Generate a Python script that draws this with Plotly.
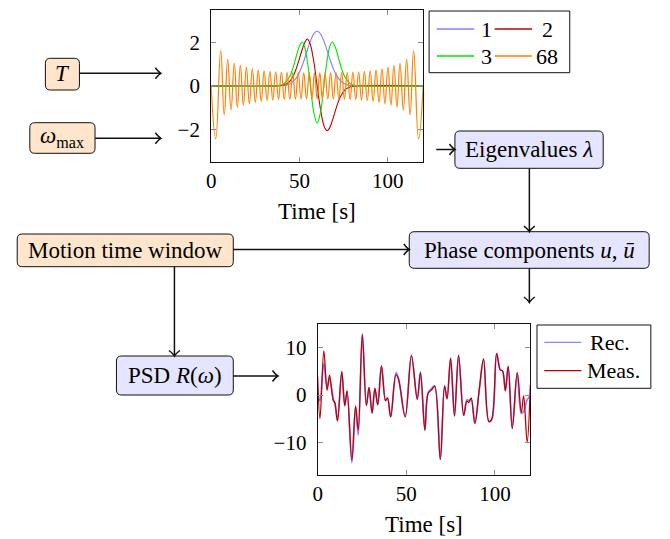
import math
import plotly.graph_objects as go

W, H = 670, 539

# ---------------- top panel: eigenfunctions ----------------
t_1 = [0, 36, 40, 43, 46, 49, 52, 54, 56, 58, 60, 62, 64, 66, 68, 71, 74, 77, 80, 84, 120]
y_1 = [0, 0.0, 0.01, 0.045, 0.17, 0.47, 1.04, 1.54, 2.03, 2.39, 2.53, 2.39, 2.03, 1.54, 1.04, 0.47, 0.17, 0.045, 0.01, 0.0, 0]

t_2 = [0, 37, 41, 44, 47, 49, 51, 53, 54.4, 56, 58, 60, 62, 64, 65.6, 67, 69, 71, 73, 76, 79, 83, 120]
y_2 = [0, 0, 0.04, 0.17, 0.55, 1.00, 1.54, 2.00, 2.16, 1.94, 1.17, 0, -1.13, -1.88, -2.07, -1.95, -1.50, -0.97, -0.53, -0.16, -0.04, 0, 0]

t_3 = [0, 38, 41, 44, 46, 48, 50, 51.5, 53, 55, 56.2, 58, 60, 62, 63.8, 65, 67, 68.5, 70, 72, 74, 76, 79, 82, 120]
y_3 = [0, 0.01, 0.085, 0.36, 0.75, 1.31, 1.84, 2.02, 1.77, 0.81, 0, -1.18, -1.74, -1.18, 0, 0.81, 1.77, 2.02, 1.84, 1.31, 0.75, 0.36, 0.085, 0.01, 0]

# extrema of the 68th eigenfunction
t_68 = [0, 2.6, 5.4, 7.4, 9.35, 11.25, 13.1, 14.82, 16.53, 18.24, 19.94, 21.63, 23.31,
        24.99, 26.66, 28.32, 29.98, 31.63, 33.27, 34.90, 36.53, 38.15, 39.76, 41.37,
        42.97, 44.56, 46.14, 47.72, 49.29, 50.85, 52.41, 53.96, 55.55, 57.05, 58.52,
        60.0, 61.48, 62.95, 64.45, 66.04, 67.59, 69.15, 70.71, 72.28, 73.86, 75.44,
        77.03, 78.63, 80.24, 81.85, 83.47, 85.10, 86.73, 88.37, 90.02, 91.68, 93.34,
        95.01, 96.69, 98.37, 100.06, 101.76, 103.47, 105.18, 106.9, 108.75, 110.65,
        112.6, 114.6, 117.4, 120]
y_68 = [0, -2.45, 1.63, -1.34, 1.22, -1.10, 1.04, -0.98, 0.94, -0.89, 0.85, -0.82, 0.79,
        -0.76, 0.73, -0.71, 0.69, -0.68, 0.67, -0.66, 0.65, -0.64, 0.63, -0.63, 0.62,
        -0.62, 0.61, -0.61, 0.61, -0.60, 0.60, -0.60, 0.60, -0.60, 0.60, -0.60,
        0.60, -0.60, 0.60, -0.60, 0.60, -0.60, 0.61, -0.61, 0.61, -0.62, 0.62, -0.63,
        0.63, -0.64, 0.65, -0.66, 0.67, -0.68, 0.69, -0.71, 0.73, -0.76, 0.79, -0.82,
        0.85, -0.89, 0.94, -0.98, 1.04, -1.10, 1.22, -1.34, 1.63, -2.45, 0]

top_names = ["1", "2", "3", "68"]
top_colors = ["#8080FF", "#BF0000", "#00E600", "#FF8000"]

# ---------------- bottom panel: reconstructed vs measured motion ----------------
meas_t = [0, 1.3, 3.5, 5.3, 6.7, 8.8, 9.7, 11.2, 13.6, 15.3, 16.6, 19.3, 21.4, 22.9, 25.2,
          27.5, 29.0, 30.7, 32.3, 33.9, 36.0, 38.3, 39.4, 41.2, 44.2, 45.6, 49.4, 52.9,
          56.2, 58.0, 60.5, 62.3, 64.3, 66.0, 69.2, 71.6, 73.0, 75.0, 77.2, 79.5, 82.4,
          84.2, 85.3, 86.6, 88.7, 91.2, 93.6, 96.6, 98.2, 101.0, 103.0, 104.3, 105.9,
          107.5, 109.8, 112.6, 114.9, 116.2, 118.2, 120]
meas_v = [3.9, -5.0, 9.3, 1.0, 4.2, -1.1, -1.6, -5.5, 5.0, -2.3, 0.9, -13.7, -2.3, -7.4, 12.8,
          -2.2, 1.6, -3.8, 1.4, -2.1, 6.2, -1.2, -0.6, -4.6, 4.3, 3.4, -4.6, 8.4,
          -0.9, 4.7, -7.4, 0.3, 1.1, 1.8, -13.6, 1.9, -0.8, 7.8, -4.4, 8.4, -4.3,
          -1.3, -1.6, -0.6, -6.0, 1.2, 7.6, -5.6, -5.1, 8.8, 5.3, 5.1, 0.9,
          6.1, -7.1, 4.7, -3.7, -0.2, -10.0, 2.1]

rec_t = meas_t
rec_v = [0.6, -1.2, 6.6, 1.6, 3.4, -0.8, -1.8, -5.3, 4.8, -2.0, 0.4, -14.3, -2.6, -8.5, 12.9,
         -2.2, 1.5, -3.8, 1.4, -2.0, 6.0, -1.2, -0.6, -4.6, 4.7, 3.5, -4.6, 8.2,
         -0.9, 4.9, -7.4, 0.5, 1.4, 2.0, -13.6, 1.9, -0.8, 7.7, -4.4, 8.3, -4.3,
         -1.0, -1.2, -0.9, -6.0, 1.2, 7.5, -5.6, -5.3, 8.7, 5.4, 5.1, 0.9,
         6.0, -7.0, 4.6, -3.9, -3.5, -1.0, -0.2]

bottom_names = ["Rec.", "Meas."]
bottom_colors = ["#8888FF", "#BF0000"]

FONT = "Liberation Serif, Times New Roman, serif"
INK = "#111111"


def fx(x):
    return x / W


def fy(y):
    return 1 - y / H


fig = go.Figure()

top_series = [(t_1, y_1), (t_2, y_2), (t_3, y_3), (t_68, y_68)]
for (t, y), name, col in zip(top_series, top_names, top_colors):
    fig.add_trace(go.Scatter(
        x=t, y=y, mode="lines", name=name, showlegend=False,
        line=dict(color=col, width=1.2 if name == "68" else 1.1, shape="spline",
                  smoothing=1.3 if name == "68" else 1.0),
        xaxis="x", yaxis="y"))

for (t, v), name, col, w in zip([(rec_t, rec_v), (meas_t, meas_v)], bottom_names,
                                bottom_colors, [1.7, 1.3]):
    fig.add_trace(go.Scatter(
        x=t, y=v, mode="lines", name=name, showlegend=False,
        line=dict(color=col, width=w, shape="spline"),
        xaxis="x2", yaxis="y2"))

axis_common = dict(
    ticks="inside", ticklen=5, tickwidth=1, tickcolor="#8c8c8c",
    showline=True, linecolor=INK, linewidth=1, mirror="allticks",
    showgrid=False, zeroline=False, tickfont=dict(size=21, family=FONT, color="black"),
    fixedrange=True,
)

fig.update_layout(
    width=W, height=H,
    margin=dict(l=0, r=0, t=0, b=0),
    paper_bgcolor="white", plot_bgcolor="white",
    font=dict(family=FONT, color="black"),
    xaxis=dict(domain=[fx(207.7), fx(421.3)], range=[0, 120], tickvals=[0, 50, 100],
               anchor="y", ticklabelstandoff=0, **axis_common),
    yaxis=dict(domain=[fy(161.7), fy(10)], range=[-3.5, 3.5], tickvals=[-2, 0, 2],
               anchor="x", ticklabelstandoff=6, **axis_common),
    xaxis2=dict(domain=[fx(315), fx(529.3)], range=[0, 120], tickvals=[0, 50, 100],
                anchor="y2", ticklabelstandoff=0, **axis_common),
    yaxis2=dict(domain=[fy(475), fy(324)], range=[-16.88, 14.98], tickvals=[-10, 0, 10],
                anchor="x2", ticklabelstandoff=6, **axis_common),
)

shapes = []
annotations = []


def rounded_box(x0, y0, x1, y1, fill, r=5):
    p = (f"M {fx(x0 + r)},{fy(y0)} L {fx(x1 - r)},{fy(y0)} "
         f"Q {fx(x1)},{fy(y0)} {fx(x1)},{fy(y0 + r)} L {fx(x1)},{fy(y1 - r)} "
         f"Q {fx(x1)},{fy(y1)} {fx(x1 - r)},{fy(y1)} L {fx(x0 + r)},{fy(y1)} "
         f"Q {fx(x0)},{fy(y1)} {fx(x0)},{fy(y1 - r)} L {fx(x0)},{fy(y0 + r)} "
         f"Q {fx(x0)},{fy(y0)} {fx(x0 + r)},{fy(y0)} Z")
    shapes.append(dict(type="path", path=p, xref="paper", yref="paper",
                       fillcolor=fill, line=dict(color=INK, width=1)))


def label(x, y, text, size=23, anchor="center"):
    annotations.append(dict(x=fx(x), y=fy(y), xref="paper", yref="paper", text=text,
                            showarrow=False, xanchor=anchor, yanchor="middle",
                            font=dict(size=size, family=FONT, color="black")))


def arrow(x0, y0, x1, y1, head=5.5, back=5.5):
    shapes.append(dict(type="line", x0=fx(x0), y0=fy(y0), x1=fx(x1), y1=fy(y1),
                       xref="paper", yref="paper", line=dict(color=INK, width=1.5)))
    L = math.hypot(x1 - x0, y1 - y0)
    ux, uy = (x1 - x0) / L, (y1 - y0) / L
    nx, ny = -uy, ux
    bx, by = x1 - back * ux, y1 - back * uy
    a = (bx + head * nx, by + head * ny)
    b = (bx - head * nx, by - head * ny)
    ca = (x1 - 2.0 * ux + 1.0 * nx, y1 - 2.0 * uy + 1.0 * ny)
    cb = (x1 - 2.0 * ux - 1.0 * nx, y1 - 2.0 * uy - 1.0 * ny)
    p = (f"M {fx(a[0])},{fy(a[1])} Q {fx(ca[0])},{fy(ca[1])} {fx(x1)},{fy(y1)} "
         f"Q {fx(cb[0])},{fy(cb[1])} {fx(b[0])},{fy(b[1])}")
    shapes.append(dict(type="path", path=p, xref="paper", yref="paper",
                       line=dict(color=INK, width=1.5)))


PEACH = "#FFE5CC"
LAVENDER = "#E5E5FF"

# input parameters
rounded_box(40.7, 58.3, 75.0, 90.0, PEACH)
label(57.8, 74.0, "<i>T</i>")
rounded_box(25.0, 122.7, 90.7, 153.3, PEACH)
label(57.8, 137.0, "<i>ω</i><sub>max</sub>")
rounded_box(12.3, 234.0, 230.0, 266.7, PEACH)
label(121.0, 250.0, "Motion time window")

# processing steps
rounded_box(112.3, 356.0, 230.0, 395.0, LAVENDER)
label(171.0, 375.5, "PSD <i>R</i>(<i>ω</i>)")
rounded_box(453.3, 131.0, 602.7, 168.3, LAVENDER)
label(528.0, 149.5, "Eigenvalues <i>λ</i>")
rounded_box(407.3, 231.7, 649.0, 268.3, LAVENDER)
label(528.0, 250.0, "Phase components <i>u</i>, <i>ū</i>")

# connections
arrow(75.0, 73.3, 157.0, 73.3)
arrow(90.7, 138.3, 157.0, 138.3)
arrow(230.0, 249.5, 407.3, 249.5)
arrow(170.7, 266.7, 170.7, 356.0)
arrow(230.0, 376.0, 275.0, 376.0)
arrow(434.5, 149.5, 453.3, 149.5)
arrow(528.3, 168.3, 528.3, 231.7)
arrow(528.3, 268.3, 528.3, 302.5)

# axis titles
label(314.5, 212.0, "Time [s]")
label(422.0, 524.0, "Time [s]")

# legend of the top panel
shapes.append(dict(type="rect", x0=fx(427.3), x1=fx(569.0), y0=fy(72.7), y1=fy(11.0),
                   xref="paper", yref="paper", line=dict(color=INK, width=1),
                   fillcolor="white"))
top_slots = [(435.0, 472.7, 29.0, 477.5), (493.3, 531.0, 29.0, 546.5),
             (435.0, 472.7, 56.0, 477.5), (493.3, 531.0, 56.0, 546.5)]
for (lx0, lx1, ly, tx), name, col in zip(top_slots, top_names, top_colors):
    shapes.append(dict(type="line", x0=fx(lx0), x1=fx(lx1), y0=fy(ly), y1=fy(ly),
                       xref="paper", yref="paper", line=dict(color=col, width=1.3)))
    label(tx, ly, name, size=22, anchor="left" if tx < 500 else "center")

# legend of the bottom panel
shapes.append(dict(type="rect", x0=fx(536.0), x1=fx(650.7), y0=fy(388.3), y1=fy(325.0),
                   xref="paper", yref="paper", line=dict(color=INK, width=1),
                   fillcolor="white"))
for ly, name, col, tx in zip([342.3, 370.7], bottom_names, bottom_colors, [610.0, 613.0]):
    shapes.append(dict(type="line", x0=fx(543.3), x1=fx(580.7), y0=fy(ly), y1=fy(ly),
                       xref="paper", yref="paper", line=dict(color=col, width=1.3)))
    label(tx, ly, name, size=22)

fig.update_layout(shapes=shapes, annotations=annotations)
fig.write_html("out.html")
